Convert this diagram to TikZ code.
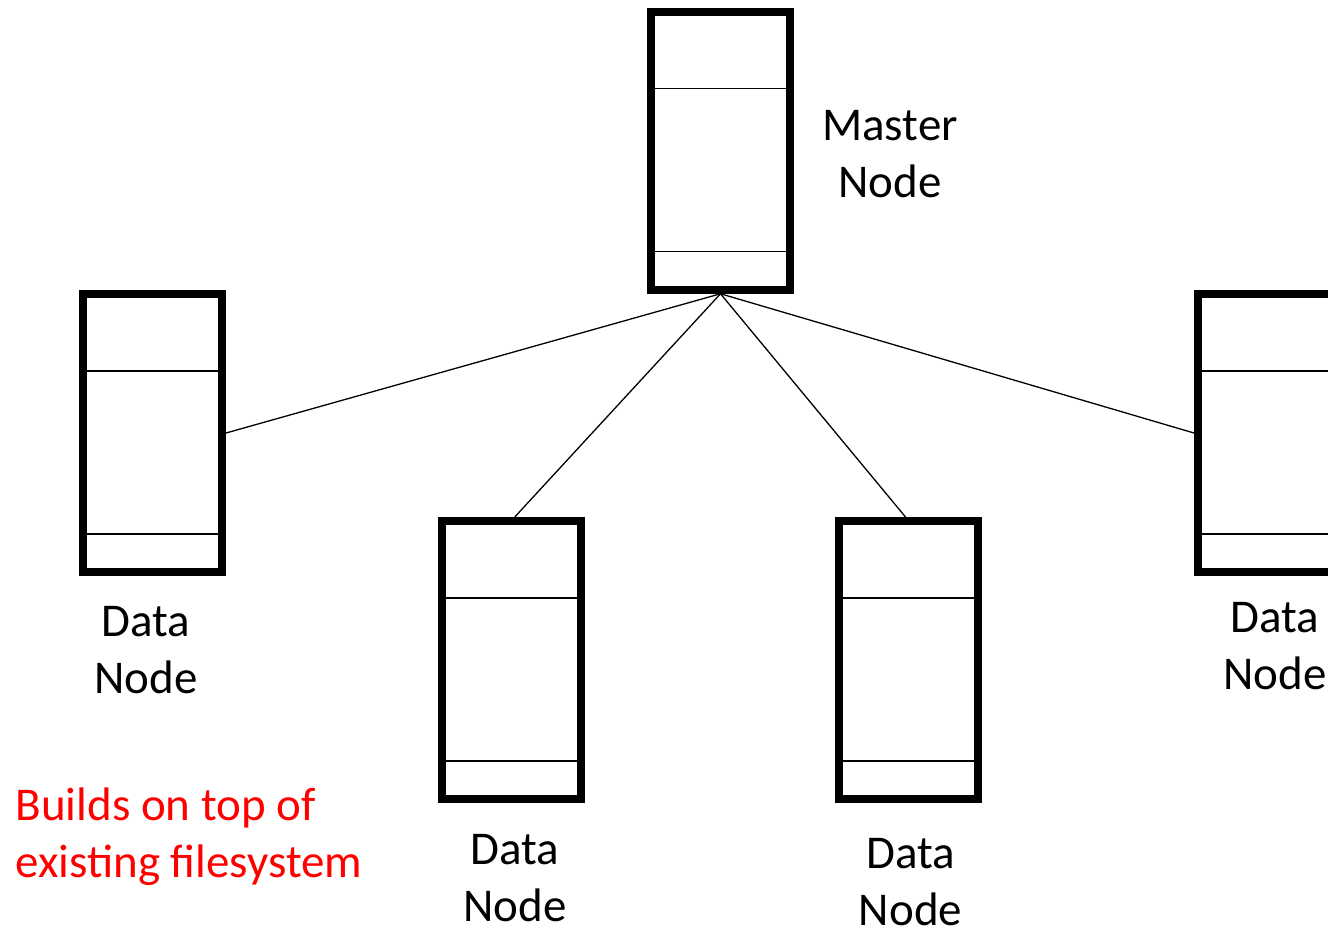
\documentclass[tikz,border=0pt]{standalone}
\usepackage{fontspec}
\setmainfont{Carlito}
\usepackage{tikz}
\tikzset{every picture/.style={line width=1.3pt}}

\begin{document}
\begin{tikzpicture}[x=1pt,y=-1pt]
\useasboundingbox (0,0) rectangle (1328,927);

\begin{scope}[every node/.style={rectangle,draw,line width=8pt,minimum width=139pt,minimum height=278pt,inner sep=0pt,
    path picture={
      \draw[line width=1.3pt] ([yshift=-77pt]path picture bounding box.north west) -- ([yshift=-77pt]path picture bounding box.north east);
      \draw[line width=1.3pt] ([yshift=-240pt]path picture bounding box.north west) -- ([yshift=-240pt]path picture bounding box.north east);}}]
\node (M) at (720.5,150.75) {};
\node (D1) at (152.5,433) {};
\node (D2) at (511.75,660) {};
\node (D3) at (908.5,660) {};
\node (D4) at (1267.5,433) {};
\end{scope}

\begin{scope}[every edge/.style={draw,line width=1.3pt}]
    \path (M.south) edge (D1.east);
    \path (M.south) edge ([xshift=3pt]D2.north);
    \path (M.south) edge ([xshift=-3pt]D3.north);
    \path (M.south) edge (D4.west);
\end{scope}

\begin{scope}[every node/.style={font=\fontsize{47}{57}\selectfont,align=center,inner sep=0pt}]
\node (LM) at (890,154) {Master\\Node};
\node (L1) at (146,650.5) {Data\\Node};
\node (L2) at (515,878) {Data\\Node};
\node (L3) at (910.5,882.5) {Data\\Node};
\node (L4) at (1275,646) {Data\\Node};
\node[text=red,align=left,anchor=west] (note) at (15,837) {Builds on top of\\existing filesystem};
\end{scope}
\end{tikzpicture}
\end{document}
